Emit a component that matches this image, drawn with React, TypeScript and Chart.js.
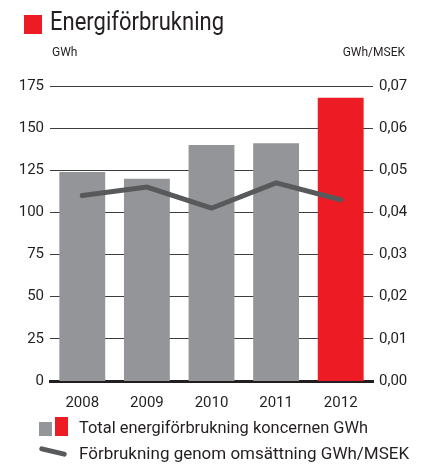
import React, { useEffect, useRef } from "react";
import { Chart, registerables } from "chart.js";
Chart.register(...registerables);

const years = ["2008", "2009", "2010", "2011", "2012"];
const energyGWh = [124, 120, 140, 141, 168];
const perMSEK = [0.044, 0.046, 0.041, 0.047, 0.043];
const barColors = ["#939598", "#939598", "#939598", "#939598", "#ed1c24"];
const titleText = "Energiförbrukning";
const leftUnit = "GWh";
const rightUnit = "GWh/MSEK";
const legendBars = "Total energiförbrukning koncernen GWh";
const legendLine = "Förbrukning genom omsättning GWh/MSEK";

const FONT = "'Roboto', 'Liberation Sans', sans-serif";

export default function App() {
  const ref = useRef<HTMLCanvasElement | null>(null);
  useEffect(() => {
    if (!ref.current) return;
    const chart = new Chart(ref.current, {
      type: "bar",
      data: {
        labels: years,
        datasets: [
          {
            type: "line",
            label: legendLine,
            data: perMSEK,
            yAxisID: "y1",
            borderColor: "#58595b",
            borderWidth: 5,
            pointRadius: 0,
            borderCapStyle: "round",
            borderJoinStyle: "miter",
            tension: 0,
            order: 0,
          } as any,
          {
            type: "bar",
            label: legendBars,
            data: energyGWh,
            yAxisID: "y",
            backgroundColor: barColors,
            barPercentage: 0.71,
            categoryPercentage: 1,
            order: 1,
          } as any,
        ],
      },
      options: {
        responsive: false,
        animation: false,
        layout: { padding: { top: 86, left: 0, right: 0, bottom: 0 } },
        plugins: { legend: { display: false }, tooltip: { enabled: false } },
        scales: {
          x: {
            z: 1,
            grid: { display: false },
            border: { display: true, color: "#231f20", width: 3 },
            ticks: { color: "#231f20", font: { family: FONT, size: 15 }, padding: 5 },
            afterFit: (s: any) => { s.height = 84; },
          },
          y: {
            position: "left",
            min: 0,
            max: 175,
            ticks: { stepSize: 25, color: "#231f20", font: { family: FONT, size: 15 }, padding: 6 },
            grid: {
              drawTicks: false,
              color: "#3d3d3d",
              lineWidth: (ctx: any) => (ctx.tick && ctx.tick.value === 0 ? 0 : 1),
            },
            border: { display: false },
            afterFit: (s: any) => { s.width = 50; },
          },
          y1: {
            position: "right",
            min: 0,
            max: 0.07,
            ticks: {
              stepSize: 0.01,
              color: "#231f20",
              font: { family: FONT, size: 15 },
              padding: 6,
              callback: (v: any) => Number(v).toFixed(2).replace(".", ","),
            },
            grid: { display: false, drawTicks: false },
            border: { display: false },
            afterFit: (s: any) => { s.width = 49; },
          },
        },
      },
    });
    return () => chart.destroy();
  }, []);

  return (
    <div style={{ position: "absolute", left: 0, top: 0, width: 422, height: 465, background: "#fff", fontFamily: FONT, color: "#231f20" }}>
      <canvas ref={ref} width={422} height={465} style={{ position: "absolute", left: 0, top: 0 }} />
      <div style={{ position: "absolute", left: 24, top: 15, width: 18, height: 19, background: "#ed1c24" }} />
      <div style={{ position: "absolute", left: 50, top: 7, fontSize: 25, lineHeight: "30px", whiteSpace: "nowrap", transform: "scaleX(0.88)", transformOrigin: "left center" }}>{titleText}</div>
      <div style={{ position: "absolute", left: 52, top: 45, fontSize: 12, lineHeight: "14px" }}>{leftUnit}</div>
      <div style={{ position: "absolute", right: 17, top: 45, fontSize: 12, lineHeight: "14px" }}>{rightUnit}</div>
      <div style={{ position: "absolute", left: 39, top: 422, width: 13, height: 14, background: "#939598" }} />
      <div style={{ position: "absolute", left: 55, top: 417, width: 13, height: 19, background: "#ed1c24" }} />
      <div style={{ position: "absolute", left: 79, top: 417, fontSize: 17, lineHeight: "20px", whiteSpace: "nowrap", transform: "scaleX(0.965)", transformOrigin: "left center" }}>{legendBars}</div>
      <div style={{ position: "absolute", left: 39, top: 449, width: 28, height: 5, borderRadius: 3, background: "#58595b", transform: "rotate(13deg)", transformOrigin: "center" }} />
      <div style={{ position: "absolute", left: 79, top: 443, fontSize: 17, lineHeight: "20px", whiteSpace: "nowrap" }}>{legendLine}</div>
    </div>
  );
}
